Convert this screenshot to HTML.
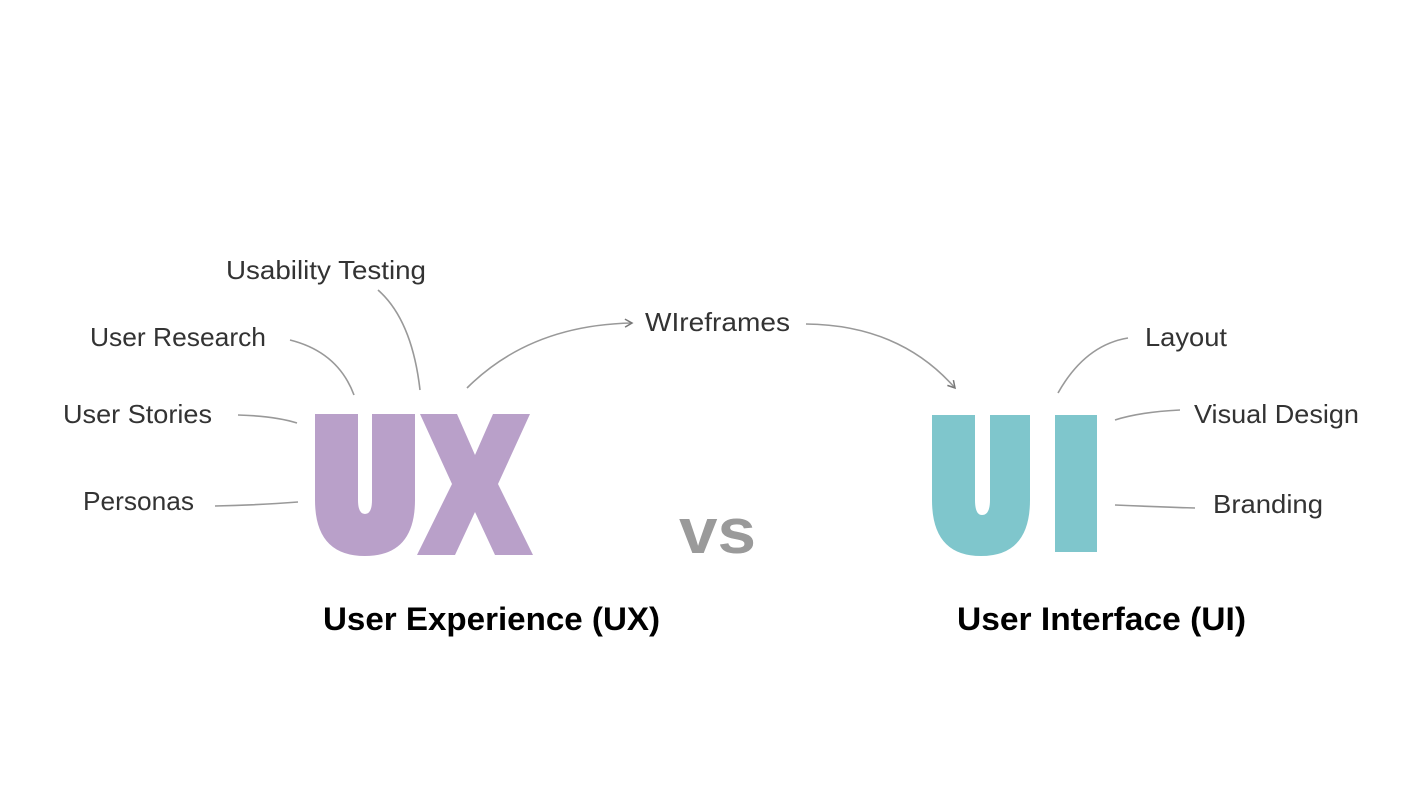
<!DOCTYPE html>
<html><head><meta charset="utf-8"><style>
html,body{margin:0;padding:0;background:#fff;}
svg{display:block;}
text{font-family:"Liberation Sans",sans-serif;}
</style></head><body>
<svg width="1427" height="804" viewBox="0 0 1427 804">
<defs><marker id="ar" markerWidth="10" markerHeight="10" refX="8" refY="5" orient="auto" markerUnits="userSpaceOnUse"><path d="M1,1 L8,5 L1,9" fill="none" stroke="#777" stroke-width="1.5"/></marker></defs>
<g fill="none" stroke="#999" stroke-width="1.6">
<path d="M378,290 Q412,320 420,390"/>
<path d="M290,340 Q338,352 354,395"/>
<path d="M238,415 Q275,416 297,423"/>
<path d="M215,506 Q260,505 298,502"/>
<path d="M467,388 Q530,325 632,323" marker-end="url(#ar)"/>
<path d="M806,324 Q900,325 955,388" marker-end="url(#ar)"/>
<path d="M1128,338 Q1085,345 1058,393"/>
<path d="M1180,410 Q1140,412 1115,420"/>
<path d="M1115,505 Q1160,507 1195,508"/>
</g>
<g fill="#b9a0c9">
<path d="M315,414 H358 V500 Q358,514 365,514 Q372,514 372,500 V414 H415 V500 Q415,556 365,556 Q315,556 315,500 Z"/>
<path d="M420,414 H457 L475,455 L493,414 H530 L498,484 L533,555 H495 L475,512 L455,555 H417 L452,484 Z"/>
</g>
<g fill="#7fc6cc">
<path d="M932,415 H975 V500 Q975,515 982,515 Q990,515 990,500 V415 H1030 V500 Q1030,556 981,556 Q932,556 932,500 Z"/>
<rect x="1055" y="415" width="42" height="137"/>
</g>
<g fill="#333" font-size="26">
<text x="226" y="279" textLength="200" lengthAdjust="spacingAndGlyphs">Usability Testing</text>
<text x="90" y="346" textLength="176" lengthAdjust="spacingAndGlyphs">User Research</text>
<text x="63" y="423" textLength="149" lengthAdjust="spacingAndGlyphs">User Stories</text>
<text x="83" y="510" textLength="111" lengthAdjust="spacingAndGlyphs">Personas</text>
<text x="645" y="331" textLength="145" lengthAdjust="spacingAndGlyphs">WIreframes</text>
<text x="1145" y="346" textLength="82" lengthAdjust="spacingAndGlyphs">Layout</text>
<text x="1194" y="423" textLength="165" lengthAdjust="spacingAndGlyphs">Visual Design</text>
<text x="1213" y="513" textLength="110" lengthAdjust="spacingAndGlyphs">Branding</text>
</g>
<text x="679" y="553" font-size="64" font-weight="bold" fill="#9a9a9a" textLength="77" lengthAdjust="spacingAndGlyphs">vs</text>
<g fill="#000" font-size="32" font-weight="bold">
<text x="323" y="630" textLength="337" lengthAdjust="spacingAndGlyphs">User Experience (UX)</text>
<text x="957" y="630" textLength="289" lengthAdjust="spacingAndGlyphs">User Interface (UI)</text>
</g>
</svg>
</body></html>
